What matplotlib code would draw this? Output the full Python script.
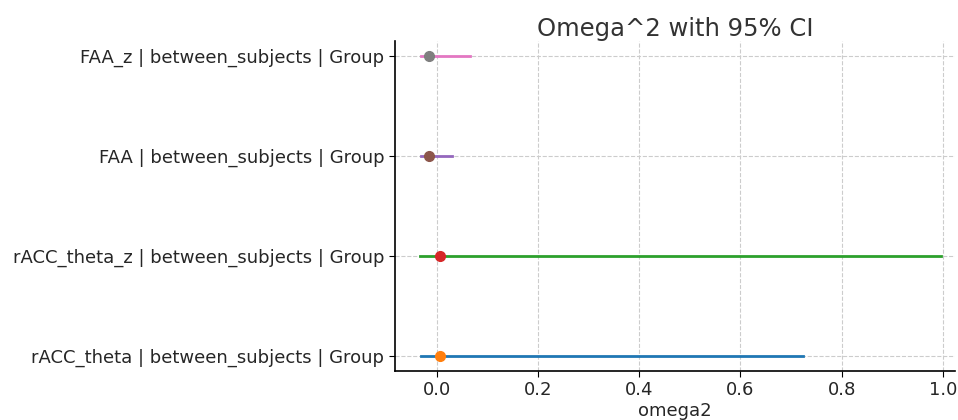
import matplotlib
matplotlib.use("Agg")
import matplotlib.pyplot as plt

labels = ["rACC_theta | between_subjects | Group",
          "rACC_theta_z | between_subjects | Group",
          "FAA | between_subjects | Group",
          "FAA_z | between_subjects | Group"]
omega2 = [0.007, 0.007, -0.015, -0.015]
ci_low = [-0.031, -0.033, -0.032, -0.032]
ci_high = [0.723, 0.997, 0.030, 0.065]

plt.rcParams['font.family'] = ['DejaVu Sans']
fig = plt.figure(figsize=(9.58, 4.2), dpi=100)
ax = fig.add_axes([0.412, 0.117, 0.585, 0.785])

for i, lab in enumerate(labels):
    ax.plot([ci_low[i], ci_high[i]], [i, i], lw=2)
    ax.plot(omega2[i], i, 'o', ms=7)

ax.set_yticks(range(len(labels)))
ax.set_yticklabels(labels)
ax.set_xlabel("omega2", fontsize=13, color='#262626', labelpad=2)
ax.set_title("Omega^2 with 95% CI", fontsize=17.5, color='#333333', pad=4)
ax.tick_params(axis='both', labelsize=13, labelcolor='#262626', length=4)
ax.grid(True, linestyle='--', color='#cccccc', lw=0.8)
ax.set_axisbelow(True)
ax.spines['top'].set_visible(False)
ax.spines['right'].set_visible(False)
for s in ('left', 'bottom'):
    ax.spines[s].set_linewidth(1.2)
ax.set_xlim(-0.083, 1.024)
ax.set_ylim(-0.15, 3.15)

fig.savefig("out.png", dpi=100)
